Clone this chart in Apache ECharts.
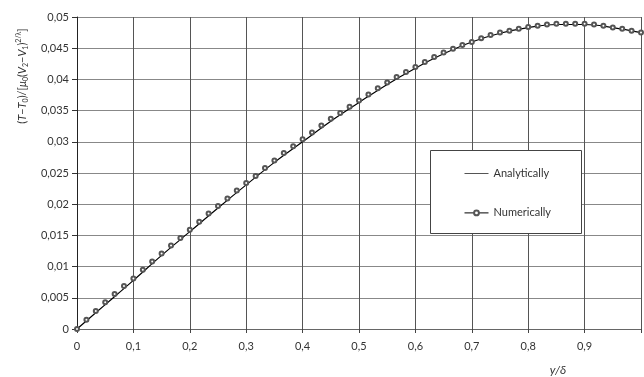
<!DOCTYPE html>
<html><head><meta charset="utf-8">
<script src="https://cdn.jsdelivr.net/npm/echarts@6/dist/echarts.min.js"></script>
<style>html,body{margin:0;padding:0;background:#fff}#c{width:644px;height:377px}</style>
</head><body><div id="c"></div>
<script>
const xAnalytical = [0,0.05,0.1,0.15,0.2,0.25,0.3,0.35,0.4,0.45,0.5,0.55,0.6,0.65,0.7,0.75,0.8,0.85,0.9,0.95,1.0];
const yAnalytical = [0,0.0039,0.0078,0.0118,0.0156,0.0194,0.0231,0.0267,0.0300,0.0333,0.0363,0.0392,0.0418,0.0441,0.0460,0.0474,0.0483,0.0488,0.0488,0.0483,0.0475];
const xNumerical = [0,0.0167,0.0333,0.05,0.0667,0.0833,0.1,0.1167,0.1333,0.15,0.1667,0.1833,0.2,0.2167,0.2333,0.25,0.2667,0.2833,0.3,0.3167,0.3333,0.35,0.3667,0.3833,0.4,0.4167,0.4333,0.45,0.4667,0.4833,0.5,0.5167,0.5333,0.55,0.5667,0.5833,0.6,0.6167,0.6333,0.65,0.6667,0.6833,0.7,0.7167,0.7333,0.75,0.7667,0.7833,0.8,0.8167,0.8333,0.85,0.8667,0.8833,0.9,0.9167,0.9333,0.95,0.9667,0.9833,1.0];
const yNumerical = [0,0.0015,0.0029,0.0043,0.0056,0.0069,0.0081,0.0095,0.0108,0.0121,0.0134,0.0146,0.0159,0.0172,0.0185,0.0197,0.0209,0.0222,0.0234,0.0245,0.0258,0.0270,0.0282,0.0293,0.0304,0.0315,0.0326,0.0337,0.0346,0.0356,0.0366,0.0376,0.0386,0.0395,0.0404,0.0412,0.0420,0.0428,0.0436,0.0443,0.0449,0.0455,0.0460,0.0466,0.0471,0.0475,0.0478,0.0481,0.0484,0.0486,0.0488,0.0489,0.0489,0.0489,0.0489,0.0488,0.0486,0.0483,0.0481,0.0478,0.0475];
const seriesNames = ['Analytically','Numerically'];

const FONT = 'Lato';
const fmt = v => v >= 0.9999 && v <= 1.0001 ? '' : String(+v.toFixed(3)).replace('.', ',');
const fmtY = v => String(+v.toFixed(3)).replace('.', ',');

const chart = echarts.init(document.getElementById('c'), null, {renderer:'canvas'});
chart.setOption({
  animation: false,
  backgroundColor: '#fff',
  grid: {left: 77, top: 17, width: 573, height: 312},
  xAxis: {
    type: 'value', min: 0, max: 1, interval: 0.1,
    axisLine: {show: true, lineStyle: {color: '#666', width: 1}},
    axisTick: {show: true, length: 4, lineStyle: {color: '#444'}},
    axisLabel: {margin: 12, formatter: fmt, color: '#333', fontFamily: FONT, fontSize: 11},
    splitLine: {show: true, lineStyle: {color: '#555', width: 1}}
  },
  yAxis: {
    type: 'value', min: 0, max: 0.05, interval: 0.005,
    axisLine: {show: true, lineStyle: {color: '#222', width: 1}},
    axisTick: {show: true, length: 5, lineStyle: {color: '#333'}},
    axisLabel: {margin: 8, formatter: fmtY, color: '#333', fontFamily: FONT, fontSize: 11},
    splitLine: {show: true, lineStyle: {color: '#888', width: 1}}
  },
  legend: {
    orient: 'vertical', left: 459, top: 163, z: 60,
    itemWidth: 24, itemHeight: 6, itemGap: 28.4,
    textStyle: {fontFamily: FONT, fontSize: 11, color: '#333'},
    data: [
      {name: seriesNames[0], itemStyle: {opacity: 0}, lineStyle: {width: 1, color: '#555', opacity: 1}},
      {name: seriesNames[1], lineStyle: {width: 1, color: '#000', opacity: 1}}
    ]
  },
  graphic: [
    {type: 'rect', z: 50, shape: {x: 430.5, y: 150.5, width: 151, height: 83},
     style: {fill: '#fff', stroke: '#444', lineWidth: 1}},
    {type: 'text', x: 22, y: 76, rotation: Math.PI/2, z: 50,
     style: {
       text: '{a|(}{i|T}{a|−}{i|T}{s|0}{a|)/[}{i|μ}{s|0}{a|(}{i|V}{s|2}{a|−}{i|V}{s|1}{a|)}{p|2/λ}{a|]}',
       align: 'center', verticalAlign: 'middle',
       rich: {
         a: {fontFamily: FONT, fontSize: 11, fill: '#333', lineHeight: 14},
         i: {fontFamily: FONT, fontSize: 11, fontStyle: 'italic', fill: '#333', lineHeight: 14},
         s: {fontFamily: FONT, fontSize: 7, fill: '#333', lineHeight: 14, verticalAlign: 'bottom'},
         p: {fontFamily: FONT, fontSize: 7, fill: '#333', lineHeight: 14, verticalAlign: 'top'}
       }
     }},
    {type: 'text', x: 558, y: 370, z: 50,
     style: {text: 'y/δ', align: 'center', verticalAlign: 'middle',
             font: 'italic 12px Lato', fill: '#333'}}
  ],
  series: [
    {name: seriesNames[0], type: 'line', smooth: 0.4, symbol: 'none',
     data: xAnalytical.map((x, i) => [x, yAnalytical[i]]),
     lineStyle: {color: '#000', width: 1.2}, itemStyle: {color: '#000'}, z: 3},
    {name: seriesNames[1], type: 'line', symbol: 'emptyCircle', symbolSize: 4, showSymbol: true,
     data: xNumerical.map((x, i) => [x, yNumerical[i]]),
     lineStyle: {width: 0, opacity: 0},
     itemStyle: {color: '#555', borderColor: '#555', borderWidth: 0.8}, z: 4}
  ]
});
</script></body></html>
